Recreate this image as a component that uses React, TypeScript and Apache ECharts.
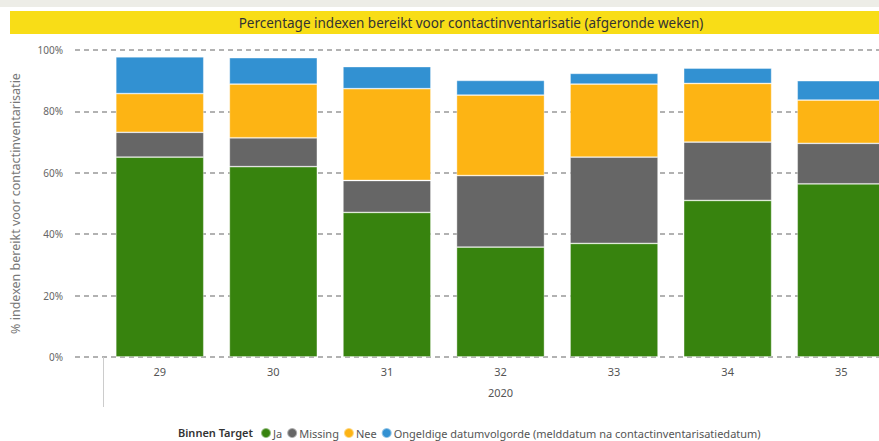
import React, { useEffect, useRef } from "react";
import * as echarts from "echarts";

const weeks = ["29", "30", "31", "32", "33", "34", "35"];
const yearLabel = ["2020"];
const ja = [65.1, 62.0, 47.1, 35.8, 37.0, 51.0, 56.4];
const missing = [8.1, 9.4, 10.4, 23.3, 28.1, 19.0, 13.2];
const nee = [12.6, 17.5, 29.9, 26.2, 23.8, 19.1, 14.1];
const ongeldig = [12.0, 8.6, 7.2, 4.8, 3.5, 5.0, 6.3];

const seriesNames = [
  "Ja",
  "Missing",
  "Nee",
  "Ongeldige datumvolgorde (melddatum na contactinventarisatiedatum)",
];
const colors = ["#37830e", "#666666", "#fdb414", "#3291d2"];

const FONT = "'Segoe UI', 'Noto Sans', 'Open Sans', sans-serif";

export default function App() {
  const ref = useRef<HTMLDivElement>(null);
  useEffect(() => {
    if (!ref.current) return;
    const chart = echarts.init(ref.current, undefined, { renderer: "svg" });
    const dataSets = [ja, missing, nee, ongeldig];
    chart.setOption({
      animation: false,
      textStyle: { fontFamily: FONT },
      graphic: [
        { type: "rect", shape: { x: 0, y: 0, width: 910, height: 7 }, style: { fill: "#ededE7" }, silent: true },
        { type: "rect", shape: { x: 10, y: 11, width: 900, height: 23 }, style: { fill: "#f8dd17" }, silent: true },
        {
          type: "text",
          x: 471,
          y: 22.5,
          style: {
            text: "Percentage indexen bereikt voor contactinventarisatie (afgeronde weken)",
            fontSize: 13.5,
            fontFamily: FONT,
            fill: "#333333",
            align: "center",
            verticalAlign: "middle",
          },
        },
        {
          type: "text",
          x: 178,
          y: 432,
          style: {
            text: "Binnen Target",
            fontSize: 11,
            fontWeight: 600,
            fontFamily: FONT,
            fill: "#333333",
            align: "left",
            verticalAlign: "middle",
          },
        },
      ],
      legend: {
        left: 255,
        top: 422,
        icon: "circle",
        itemWidth: 10,
        itemHeight: 10,
        itemGap: 4,
        textStyle: { fontSize: 11, color: "#555555", padding: [0, 0, 0, -3] },
        data: seriesNames,
      },
      grid: [
        { left: 75, top: 50, width: 835, height: 307, outerBoundsMode: "none" },
        { left: 103, top: 50, width: 795, height: 307, outerBoundsMode: "none" },
      ],
      xAxis: [
        { type: "value", gridIndex: 0, show: false, min: 0, max: 1 },
        {
          type: "category",
          gridIndex: 1,
          data: weeks,
          axisLine: { show: false },
          axisTick: { show: false },
          axisLabel: { color: "#555555", fontSize: 11, margin: 9 },
        },
        {
          type: "category",
          gridIndex: 1,
          position: "bottom",
          data: yearLabel,
          axisLine: { show: false },
          axisTick: { show: true, length: 50, lineStyle: { color: "#cccccc", width: 1 } },
          axisLabel: { color: "#555555", fontSize: 11, margin: 30 },
        },
      ],
      yAxis: [
        {
          type: "value",
          gridIndex: 0,
          min: 0,
          max: 100,
          interval: 20,
          name: "% indexen bereikt voor contactinventarisatie",
          nameLocation: "middle",
          nameGap: 53,
          nameTextStyle: { color: "#777777", fontSize: 12.5 },
          axisLine: { show: false },
          axisTick: { show: false },
          axisLabel: { formatter: "{value}%", color: "#666666", fontSize: 10, margin: 12 },
          splitLine: { lineStyle: { color: "#999999", type: [5, 4], width: 1.6 } },
        },
        { type: "value", gridIndex: 1, min: 0, max: 100, show: false, splitLine: { show: false } },
      ],
      series: dataSets.map((d, i) => ({
        name: seriesNames[i],
        type: "bar",
        stack: "total",
        xAxisIndex: 1,
        yAxisIndex: 1,
        barWidth: "77.5%",
        data: d,
        itemStyle: { color: colors[i], borderColor: "rgba(255,255,255,0.45)", borderWidth: 0.8 },
      })),
    });
    return () => chart.dispose();
  }, []);
  return (
    <div
      style={{
        position: "fixed",
        left: 0,
        top: 0,
        width: 879,
        height: 441,
        overflow: "hidden",
        background: "#ffffff",
      }}
    >
      <div ref={ref} style={{ width: 910, height: 441 }} />
    </div>
  );
}
